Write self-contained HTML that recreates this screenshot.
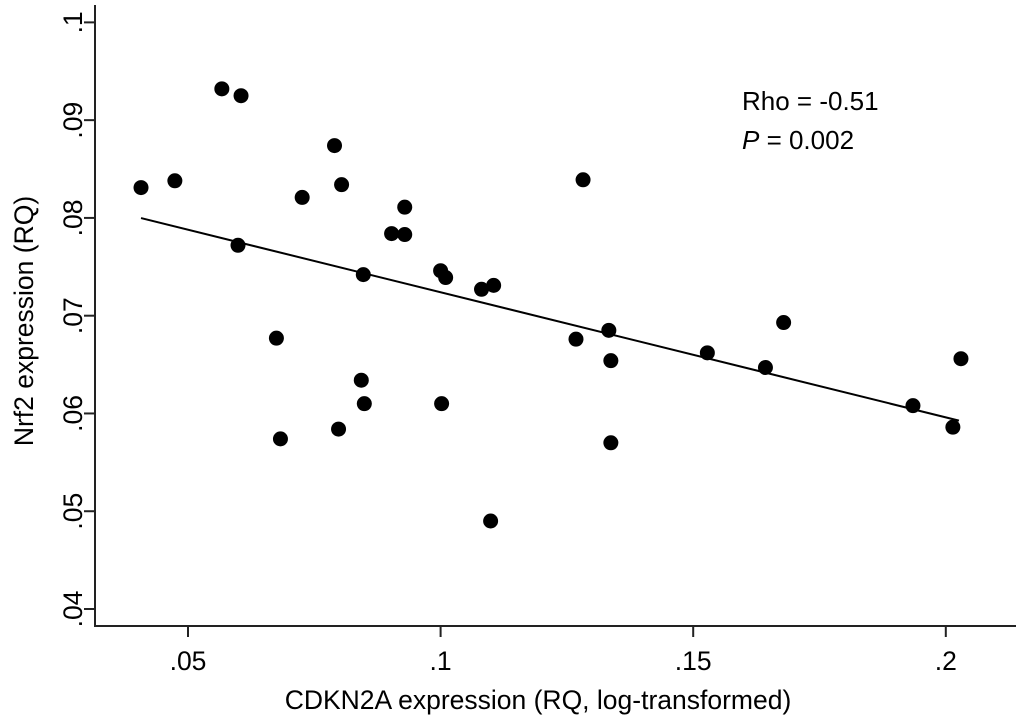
<!DOCTYPE html>
<html><head><meta charset="utf-8"><style>
body{margin:0;background:#fff;}
svg{display:block;font-family:"Liberation Sans",Arial,sans-serif;}
</style></head><body>
<svg id="chart" width="1020" height="725">
<g id="axes"></g><g id="marks"></g>
<text x="742" y="110" font-size="26">Rho = -0.51</text>
<text x="742" y="149" font-size="26"><tspan font-style="italic">P</tspan> = 0.002</text>
<text x="538" y="709" font-size="26.5" text-anchor="middle">CDKN2A expression (RQ, log-transformed)</text>
<text transform="translate(33,321) rotate(-90)" font-size="26.5" text-anchor="middle">Nrf2 expression (RQ)</text>
</svg>
<script>
const xVals=[.0407,.0474,.0567,.0605,.0599,.0675,.0683,.0726,.0790,.0804,.0798,.0843,.0847,.0849,.0903,.0929,.0929,.1000,.1010,.1002,.1081,.1105,.1099,.1282,.1268,.1333,.1337,.1337,.1528,.1643,.1679,.1935,.2014,.2030];
const yVals=[.0831,.0838,.0932,.0925,.0772,.0677,.0574,.0821,.0874,.0834,.0584,.0634,.0742,.0610,.0784,.0811,.0783,.0746,.0739,.0610,.0727,.0731,.0490,.0839,.0676,.0685,.0654,.0570,.0662,.0647,.0693,.0608,.0586,.0656];
const xTicks=[.05,.1,.15,.2];
const xTickLabels=[".05",".1",".15",".2"];
const yTicks=[.04,.05,.06,.07,.08,.09,.1];
const yTickLabels=[".04",".05",".06",".07",".08",".09",".1"];
const lineX=[.0407,.2026];

const NS="http://www.w3.org/2000/svg";
const xs=v=>188+(v-.05)*5052;
const ys=v=>609-(v-.04)*9777;
function mk(t,a,p){const e=document.createElementNS(NS,t);for(const k in a)e.setAttribute(k,a[k]);p.appendChild(e);return e;}
const ax=document.getElementById('axes'),mg=document.getElementById('marks');
let e=mk('line',{x1:95,y1:5,x2:95,y2:627,stroke:'#222','stroke-width':2},ax);

e=mk('line',{x1:94,y1:626,x2:1016,y2:626,stroke:'#222','stroke-width':2},ax);

xTicks.forEach((v,i)=>{const x=xs(v);
 let t=mk('line',{x1:x,y1:626,x2:x,y2:637,stroke:'#222','stroke-width':2},ax);
 
 let l=mk('text',{x:x,y:670,'font-size':26.5,'text-anchor':'middle'},ax);l.textContent=xTickLabels[i];
 });
yTicks.forEach((v,i)=>{const y=ys(v);
 let t=mk('line',{x1:84,y1:y,x2:95,y2:y,stroke:'#222','stroke-width':2},ax);
 
 let l=mk('text',{transform:`translate(82,${y}) rotate(-90)`,'font-size':26.5,'text-anchor':'middle'},ax);l.textContent=yTickLabels[i];
 });
const n=xVals.length,mx=xVals.reduce((a,b)=>a+b)/n,my=yVals.reduce((a,b)=>a+b)/n;
let sxy=0,sxx=0;for(let i=0;i<n;i++){sxy+=(xVals[i]-mx)*(yVals[i]-my);sxx+=(xVals[i]-mx)**2;}
const b=sxy/sxx,a=my-b*mx;
e=mk('line',{x1:xs(lineX[0]),y1:ys(a+b*lineX[0]),x2:xs(lineX[1]),y2:ys(a+b*lineX[1]),stroke:'#000','stroke-width':2},mg);

for(let i=0;i<n;i++){const c=mk('circle',{cx:xs(xVals[i]),cy:ys(yVals[i]),r:7.5,fill:'#000'},mg);
 }
</script>
</body></html>
